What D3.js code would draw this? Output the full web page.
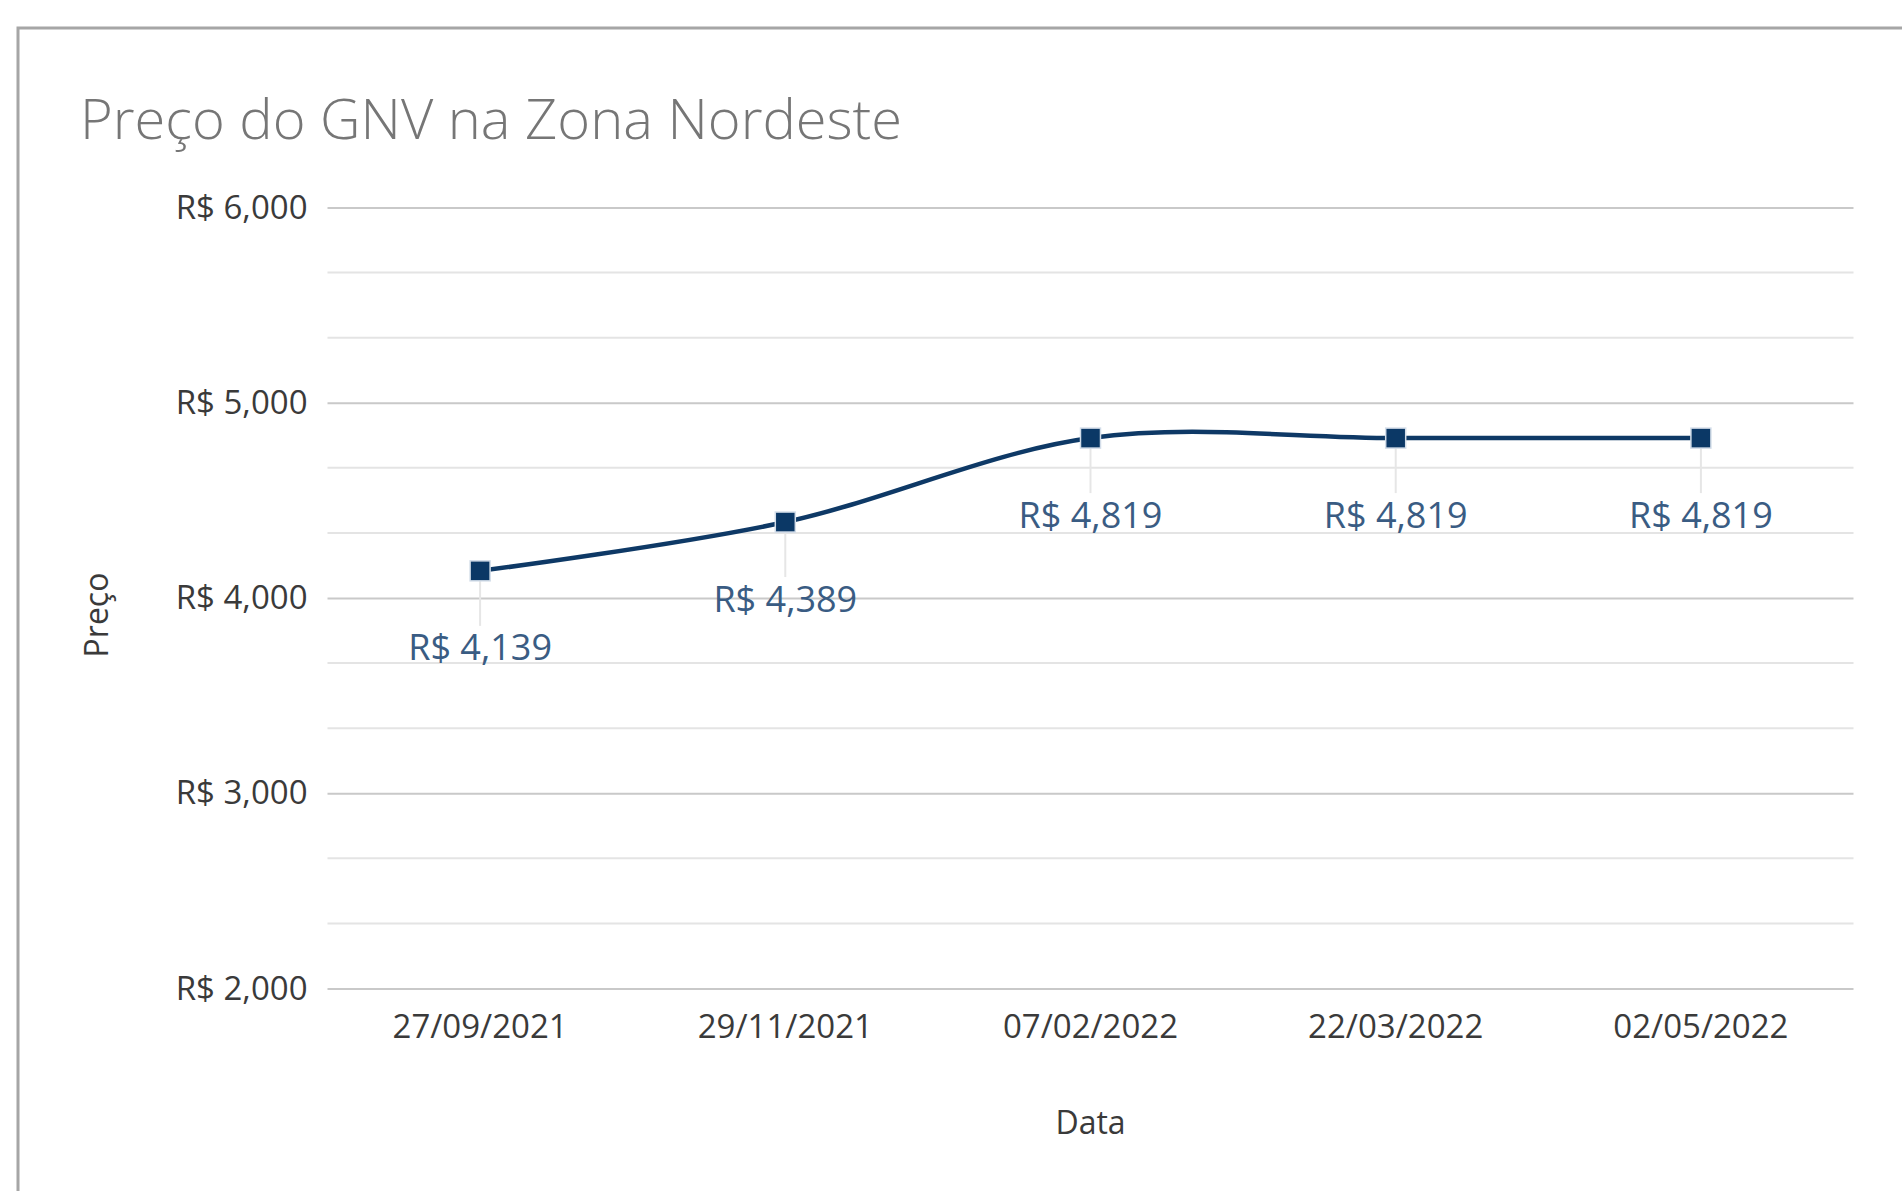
<!DOCTYPE html>
<html>
<head>
<meta charset="utf-8">
<script src="https://cdn.jsdelivr.net/npm/d3@7"></script>
<style>
    body { margin: 0; background: #fff; }
    text { font-family: 'Open Sans', 'Noto Sans', sans-serif; }
</style>
</head>
<body>
<div id="chart"></div>
<script>
// chart data
const dates = ['27/09/2021', '29/11/2021', '07/02/2022', '22/03/2022', '02/05/2022'];
const prices = [4139, 4389, 4819, 4819, 4819];
const yTicks = [2000, 3000, 4000, 5000, 6000];
const title = 'Preço do GNV na Zona Nordeste';

const svgWidth = 1902;
const svgHeight = 1191;
const plot = { left: 327.5, right: 1853.5, top: 207.5, bottom: 988.5 };

const svg = d3.select('#chart').append('svg')
    .attr('width', svgWidth)
    .attr('height', svgHeight);

// outer frame (only left/top visible in the crop)
svg.append('rect')
    .attr('x', 18).attr('y', 28)
    .attr('width', svgWidth + 50).attr('height', svgHeight + 50)
    .attr('fill', '#fff')
    .attr('stroke', '#a6a6a6')
    .attr('stroke-width', 3);

svg.append('text')
    .attr('x', 80).attr('y', 139)
    .attr('font-size', 56)
    .attr('font-weight', 300)
    .attr('fill', '#767676')
    .text(title);

const x = d3.scaleBand()
    .domain(dates)
    .range([plot.left, plot.right]);
const y = d3.scaleLinear()
    .domain([2000, 6000])
    .range([plot.bottom, plot.top]);

// minor gridlines every third of a major step
const minor = d3.range(0, 13).map(i => 2000 + i * 1000 / 3).filter((v, i) => i % 3 !== 0);
svg.append('g')
    .selectAll('line')
    .data(minor)
    .enter()
    .append('line')
    .attr('x1', plot.left).attr('x2', plot.right)
    .attr('y1', d => y(d)).attr('y2', d => y(d))
    .attr('stroke', '#e4e4e4')
    .attr('stroke-width', 2);

const yAxis = d3.axisLeft(y)
    .tickValues(yTicks)
    .tickSize(-(plot.right - plot.left))
    .tickPadding(20)
    .tickFormat(d => 'R$ ' + d3.format(',')(d));
const gY = svg.append('g')
    .attr('transform', 'translate(' + plot.left + ',0)')
    .call(yAxis);
gY.select('.domain').remove();
gY.selectAll('line').attr('stroke', '#c9c9c9').attr('stroke-width', 2);
gY.selectAll('text')
    .attr('font-size', 33)
    .attr('fill', '#3a3a3a')
    .attr('font-family', "'Open Sans', sans-serif");

const xAxis = d3.axisBottom(x).tickSize(0).tickPadding(26);
const gX = svg.append('g')
    .attr('transform', 'translate(0,' + plot.bottom + ')')
    .call(xAxis);
gX.select('.domain').remove();
gX.selectAll('text')
    .attr('font-size', 33)
    .attr('fill', '#3a3a3a')
    .attr('font-family', "'Open Sans', sans-serif");

// axis titles
svg.append('text')
    .attr('x', (plot.left + plot.right) / 2).attr('y', 1134)
    .attr('text-anchor', 'middle')
    .attr('font-size', 32)
    .attr('fill', '#3a3a3a')
    .text('Data');
svg.append('text')
    .attr('transform', 'translate(108,615) rotate(-90)')
    .attr('text-anchor', 'middle')
    .attr('font-size', 32)
    .attr('fill', '#3a3a3a')
    .text('Preço');

const points = dates.map((d, i) => ({ date: d, price: prices[i] }));
const cx = d => x(d.date) + x.bandwidth() / 2;

// leader lines for data labels
svg.append('g')
    .selectAll('line')
    .data(points)
    .enter()
    .append('line')
    .attr('x1', cx).attr('x2', cx)
    .attr('y1', d => y(d.price) + 10)
    .attr('y2', d => y(d.price) + 55)
    .attr('stroke', '#e6e6e6')
    .attr('stroke-width', 2);

const line = d3.line()
    .x(cx)
    .y(d => y(d.price))
    .curve(d3.curveCardinal.tension(0));
svg.append('path')
    .datum(points)
    .attr('d', line)
    .attr('fill', 'none')
    .attr('stroke', '#0e3966')
    .attr('stroke-width', 4.5);

svg.append('g')
    .selectAll('rect')
    .data(points)
    .enter()
    .append('rect')
    .attr('x', d => cx(d) - 10)
    .attr('y', d => y(d.price) - 10)
    .attr('width', 20).attr('height', 20)
    .attr('fill', '#0b3866')
    .attr('stroke', '#d3dde9')
    .attr('stroke-width', 1.5);

// data labels
svg.append('g')
    .selectAll('text')
    .data(points)
    .enter()
    .append('text')
    .attr('x', cx)
    .attr('y', d => y(d.price) + 77)
    .attr('dy', '0.35em')
    .attr('text-anchor', 'middle')
    .attr('font-size', 36)
    .attr('fill', '#3a5c83')
    .text(d => 'R$ ' + d3.format(',')(d.price));
</script>
</body>
</html>
